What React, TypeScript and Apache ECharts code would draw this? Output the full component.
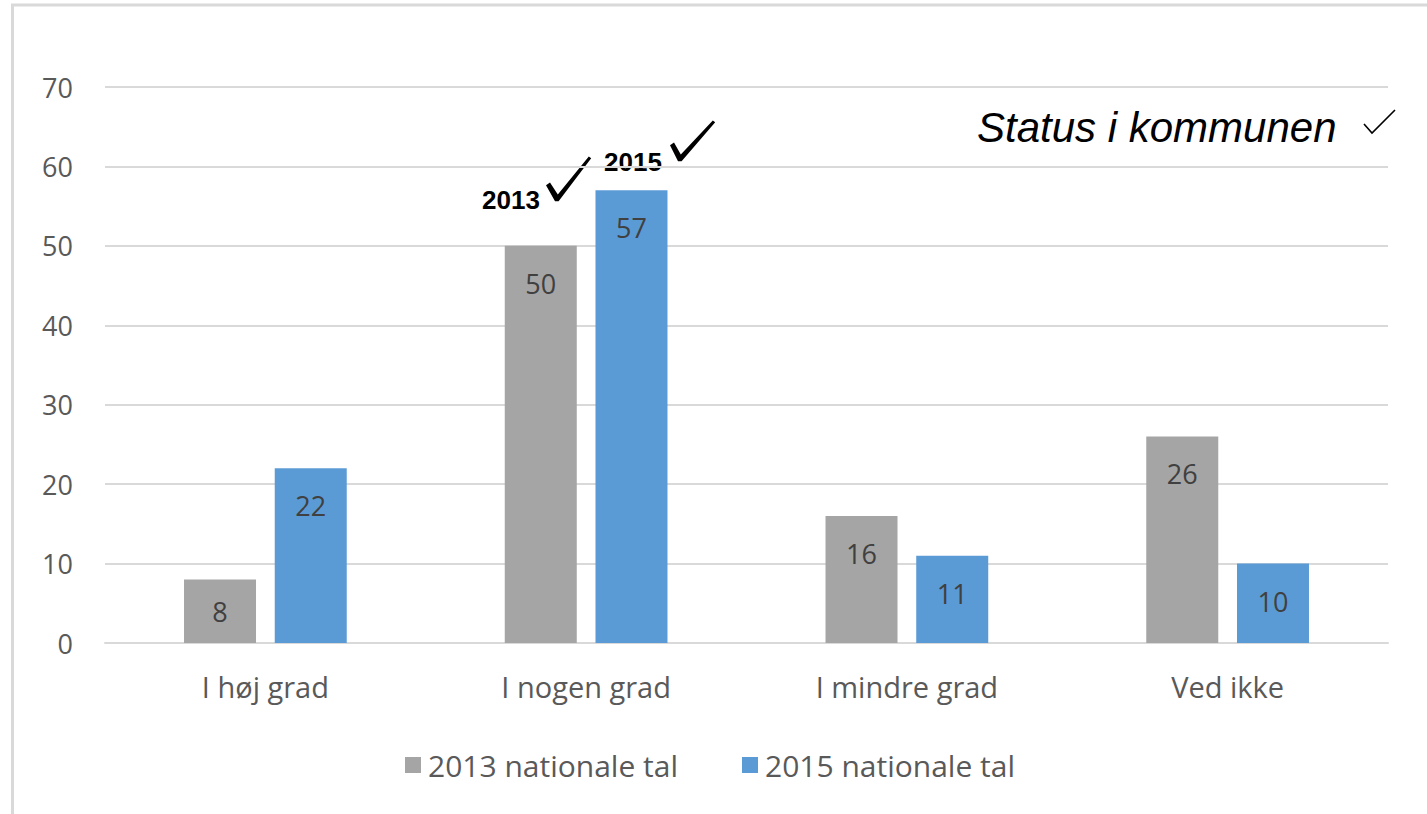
import React, { useEffect, useRef } from "react";
import * as echarts from "echarts";

const categories = ["I høj grad", "I nogen grad", "I mindre grad", "Ved ikke"];
const series2013 = [8, 50, 16, 26];
const series2015 = [22, 57, 11, 10];
const seriesNames = ["2013 nationale tal", "2015 nationale tal"];
const yTicks = { min: 0, max: 70, interval: 10 };

const FONT = "'Open Sans', Lato, sans-serif";

function makeData(values: number[]) {
  return values.map((v) =>
    v < 10 ? { value: v, label: { position: "inside" as const, distance: 0 } } : v
  );
}

function checkPoly(x0: number, y0: number, xb: number, yb: number, xt: number, yt: number, w: number) {
  return [
    [x0 - w * 0.5, y0 + w * 0.3],
    [x0 + w * 0.5, y0 - w * 0.4],
    [xb + w * 0.2, yb - w * 1.4],
    [xt - w * 0.3, yt - w * 0.1],
    [xt + w * 0.3, yt + w * 0.3],
    [xb + w * 0.4, yb + w * 0.3],
    [xb - w * 0.5, yb + w * 0.3],
  ];
}

export default function App() {
  const ref = useRef<HTMLDivElement>(null);
  useEffect(() => {
    if (!ref.current) return;
    const chart = echarts.init(ref.current, null, { renderer: "svg" });
    const labelStyle = {
      show: true,
      position: "insideTop" as const,
      distance: 24,
      color: "#404040",
      fontSize: 27,
      fontFamily: FONT,
    };
    chart.setOption({
      animation: false,
      backgroundColor: "#ffffff",
      grid: { left: 105, right: 39, top: 87, bottom: 171, containLabel: false },
      legend: {
        left: 400,
        top: 745,
        itemWidth: 16,
        itemHeight: 16,
        itemGap: 64,
        icon: "rect",
        textStyle: { color: "#595959", fontSize: 30, fontFamily: FONT, padding: [0, 0, 0, 2] },
        data: seriesNames,
      },
      xAxis: {
        type: "category",
        data: categories,
        axisLine: { show: true, lineStyle: { color: "#D9D9D9", width: 2 } },
        axisTick: { show: false },
        axisLabel: { color: "#595959", fontSize: 29, fontFamily: FONT, margin: 29 },
      },
      yAxis: {
        type: "value",
        min: yTicks.min,
        max: yTicks.max,
        interval: yTicks.interval,
        axisLine: { show: false },
        axisTick: { show: false },
        splitLine: { lineStyle: { color: "#D9D9D9", width: 2 } },
        axisLabel: { color: "#595959", fontSize: 27, fontFamily: FONT, margin: 32 },
      },
      series: [
        {
          name: seriesNames[0],
          type: "bar",
          data: makeData(series2013),
          barWidth: 72,
          barGap: "26%",
          itemStyle: { color: "#A5A5A5" },
          label: labelStyle,
        },
        {
          name: seriesNames[1],
          type: "bar",
          data: makeData(series2015),
          barWidth: 72,
          barGap: "26%",
          itemStyle: { color: "#5B9BD5" },
          label: labelStyle,
        },
      ],
      graphic: [
        { type: "line", shape: { x1: 11, y1: 5, x2: 1427, y2: 5 }, style: { stroke: "#D9D9D9", lineWidth: 3 } },
        { type: "line", shape: { x1: 12.5, y1: 4, x2: 12.5, y2: 814 }, style: { stroke: "#D9D9D9", lineWidth: 3 } },
        {
          type: "text",
          x: 482,
          y: 200,
          style: { text: "2013", fill: "#000", font: "bold 26px 'Liberation Sans', Arial, sans-serif", textVerticalAlign: "middle" },
        },
        {
          type: "polygon",
          shape: { points: checkPoly(548, 184, 557, 200, 590, 157, 4) },
          style: { fill: "#000" },
        },
        {
          type: "text",
          x: 604,
          y: 162,
          style: { text: "2015", fill: "#000", font: "bold 26px 'Liberation Sans', Arial, sans-serif", textVerticalAlign: "middle" },
        },
        {
          type: "polygon",
          shape: { points: checkPoly(672, 144, 680, 160, 714, 121, 4) },
          style: { fill: "#000" },
        },
        {
          type: "text",
          x: 977,
          y: 127,
          style: { text: "Status i kommunen", fill: "#000", font: "italic 42px 'Liberation Sans', Arial, sans-serif", textVerticalAlign: "middle" },
        },
        {
          type: "polyline",
          shape: { points: [[1364, 124], [1372, 133], [1395, 110]] },
          style: { stroke: "#000", lineWidth: 1.6, fill: null },
        },
      ],
    });
    return () => chart.dispose();
  }, []);
  return (
    <div
      ref={ref}
      style={{ position: "fixed", left: 0, top: 0, width: 1427, height: 814 }}
    />
  );
}
